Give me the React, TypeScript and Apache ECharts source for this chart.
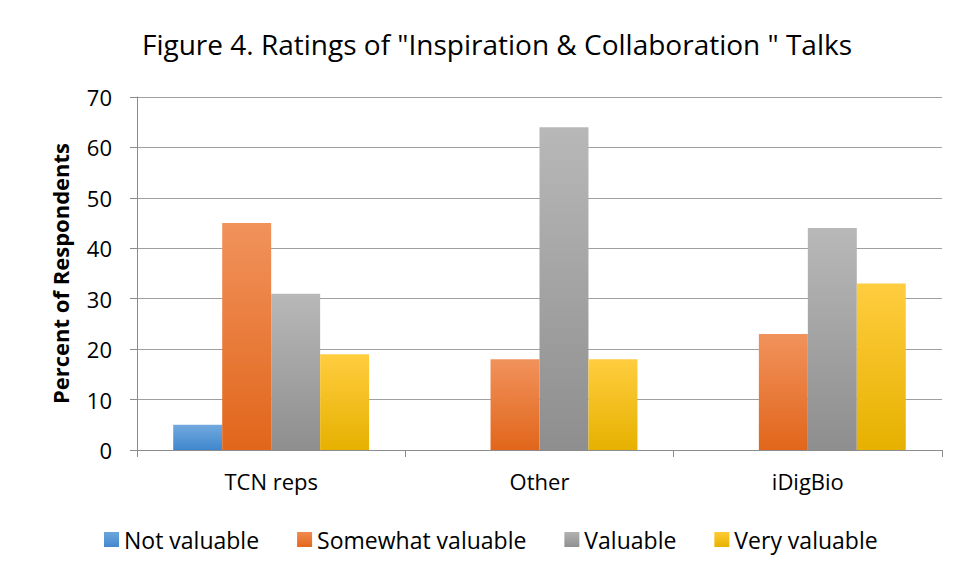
import React, { useEffect, useRef } from "react";
import * as echarts from "echarts";

const categories = ["TCN reps", "Other", "iDigBio"];
const notValuable = [5, 0, 0];
const somewhatValuable = [45, 18, 23];
const valuable = [31, 64, 44];
const veryValuable = [19, 18, 33];
const seriesNames = ["Not valuable", "Somewhat valuable", "Valuable", "Very valuable"];

const FONT = "'Open Sans', 'Liberation Sans', sans-serif";

function grad(top: string, bottom: string) {
  return new echarts.graphic.LinearGradient(0, 0, 0, 1, [
    { offset: 0, color: top },
    { offset: 1, color: bottom },
  ]);
}

export default function App() {
  const ref = useRef<HTMLDivElement>(null);
  useEffect(() => {
    if (!ref.current) return;
    const chart = echarts.init(ref.current, null, { renderer: "svg" });
    const colors = [
      grad("#72a9de", "#3f87cd"),
      grad("#f1925c", "#e1661b"),
      grad("#b8b8b8", "#8e8e8e"),
      grad("#ffcd3f", "#e6b100"),
    ];
    const legendColors = [
      grad("#6aa6dd", "#4489cd"),
      grad("#f18a4e", "#e2681d"),
      grad("#b2b2b2", "#909090"),
      grad("#ffcb35", "#e7b200"),
    ];
    const data = [notValuable, somewhatValuable, valuable, veryValuable];
    chart.setOption({
      animation: false,
      backgroundColor: "#ffffff",
      textStyle: { fontFamily: FONT },
      graphic: [
        {
          type: "rect",
          shape: { x: 4.5, y: 4.5, width: 1000, height: 700 },
          style: { fill: "none", stroke: "#b4b4b4", lineWidth: 1 },
          silent: true,
        },
      ],
      title: {
        text: 'Figure 4. Ratings of "Inspiration & Collaboration " Talks',
        left: 492,
        textAlign: "center",
        top: 25,
        textStyle: { fontFamily: FONT, fontSize: 28, fontWeight: "normal", color: "#000" },
      },
      legend: {
        bottom: 20,
        left: 99,
        itemWidth: 15,
        itemHeight: 15,
        itemGap: 38,
        icon: "rect",
        textStyle: { fontFamily: FONT, fontSize: 23, color: "#000", padding: [0, 0, 0, 0] },
        data: seriesNames.map((n, i) => ({ name: n, itemStyle: { color: legendColors[i] } })),
      },
      grid: { left: 137, right: 16, top: 97, bottom: 126 },
      xAxis: {
        type: "category",
        data: categories,
        axisLine: { lineStyle: { color: "#8c8c8c", width: 1 } },
        axisTick: { show: true, length: 7, lineStyle: { color: "#8c8c8c" } },
        axisLabel: { fontFamily: FONT, fontSize: 22, color: "#000", margin: 20 },
      },
      yAxis: {
        type: "value",
        min: 0,
        max: 70,
        interval: 10,
        name: "Percent of Respondents",
        nameLocation: "middle",
        nameGap: 66,
        nameTextStyle: { fontFamily: FONT, fontSize: 22, fontWeight: "bold", color: "#000" },
        axisLine: { show: true, lineStyle: { color: "#8c8c8c" } },
        axisTick: { show: true, length: 7, lineStyle: { color: "#8c8c8c" } },
        axisLabel: { fontFamily: FONT, fontSize: 22, color: "#000", margin: 25 },
        splitLine: { lineStyle: { color: "#a0a0a0" } },
      },
      series: data.map((d, i) => ({
        name: seriesNames[i],
        type: "bar",
        data: d,
        barGap: "0%",
        barCategoryGap: "27%",
        itemStyle: { color: colors[i] },
      })),
    });
    return () => chart.dispose();
  }, []);
  return <div ref={ref} style={{ width: 958, height: 576, margin: -8 }} />;
}
